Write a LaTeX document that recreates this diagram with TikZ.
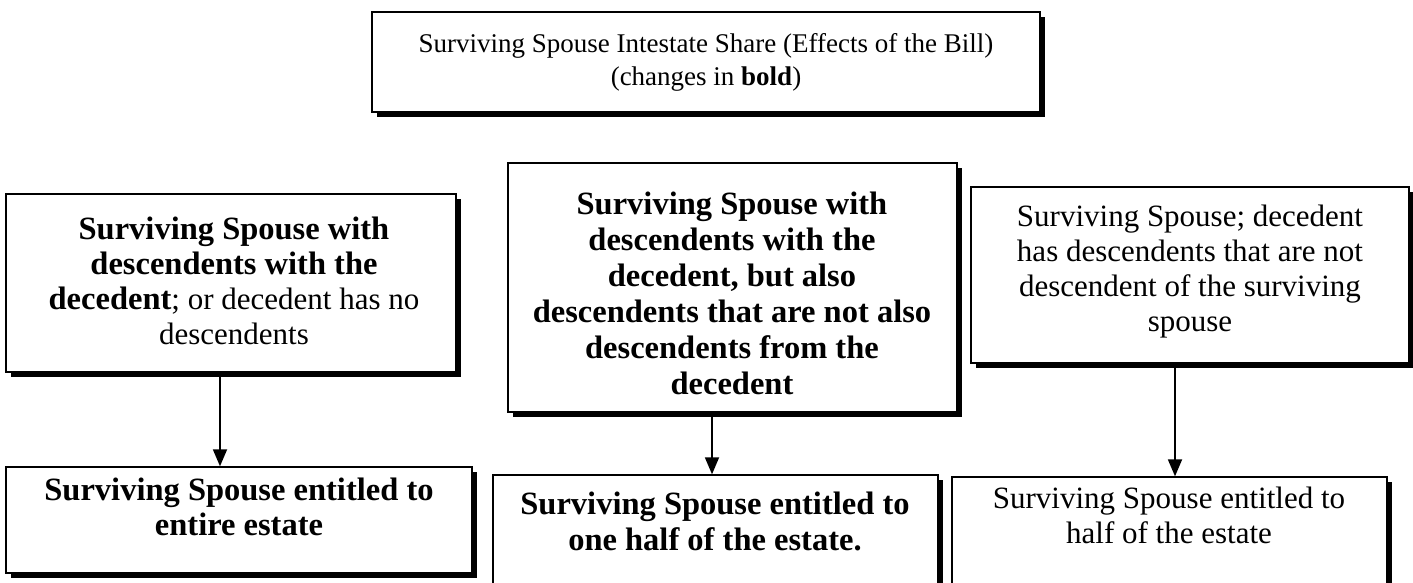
\documentclass[tikz,border=0pt]{standalone}
\usepackage{fontspec}
\setmainfont{Liberation Serif}
\usetikzlibrary{shadows,arrows.meta}
\newcommand{\bigbold}[1]{{\fontsize{32.5}{35}\selectfont\bfseries #1}}
\begin{document}
\begin{tikzpicture}[x=1pt,y=-1pt,
  box/.style={draw=black, line width=1.4pt, fill=white, inner sep=0pt,
    drop shadow={shadow xshift=4.5pt, shadow yshift=-4.5pt, fill=black, opacity=1}},
  txt/.style={align=center, inner sep=0pt, font=\fontsize{31}{35}\selectfont},
  btxt/.style={align=center, inner sep=0pt, font=\fontsize{32.5}{36}\selectfont\bfseries},
  ttl/.style={align=center, inner sep=0pt, font=\fontsize{27}{33}\selectfont},
  arr/.style={line width=1.8pt, -{Triangle[length=17pt,width=14pt]}}]
\useasboundingbox (0,0) rectangle (1413,582);
\clip (0,0) rectangle (1413,582);
% boxes
\node[box, minimum width=668pt, minimum height=100pt] (T) at (706,62) {};
\node[box, minimum width=450pt, minimum height=178pt] (b1) at (231,283) {};
\node[box, minimum width=449pt, minimum height=249pt] (b2) at (732.5,287.5) {};
\node[box, minimum width=438pt, minimum height=176pt] (b3) at (1190,275) {};
\node[box, minimum width=466pt, minimum height=106pt] (b4) at (239,520) {};
\node[box, minimum width=445pt, minimum height=125pt] (b5) at (715.5,537.5) {};
\node[box, minimum width=435pt, minimum height=123pt] (b6) at (1169.5,538.5) {};
% texts
\node[ttl] (tT) at (706,62) {Surviving Spouse Intestate Share (Effects of the Bill)\\(changes in \textbf{bold})};
\node[txt] (t1) at (234,281) {\bigbold{Surviving Spouse with}\\\bigbold{descendents with the}\\\bigbold{decedent}; or decedent has no\\descendents};
\node[btxt] (t2) at (732,293) {Surviving Spouse with\\descendents with the\\decedent, but also\\descendents that are not also\\descendents from the\\decedent};
\node[txt] (t3) at (1190,272) {Surviving Spouse; decedent\\has descendents that are not\\descendent of the surviving\\spouse};
\node[btxt, font=\fontsize{32.5}{35}\selectfont\bfseries] (t4) at (239,507) {Surviving Spouse entitled to\\entire estate};
\node[btxt] (t5) at (715,521) {Surviving Spouse entitled to\\one half of the estate.};
\node[txt] (t6) at (1169,515) {Surviving Spouse entitled to\\half of the estate};
% arrow positions
\coordinate (a1) at (220,0);
\coordinate (a2) at (712,0);
\coordinate (a3) at (1175,0);
\draw[arr] (b1.south -| a1) -- (b4.north -| a1);
\draw[arr] (b2.south -| a2) -- (b5.north -| a2);
\draw[arr] (b3.south -| a3) -- (b6.north -| a3);
\end{tikzpicture}
\end{document}
